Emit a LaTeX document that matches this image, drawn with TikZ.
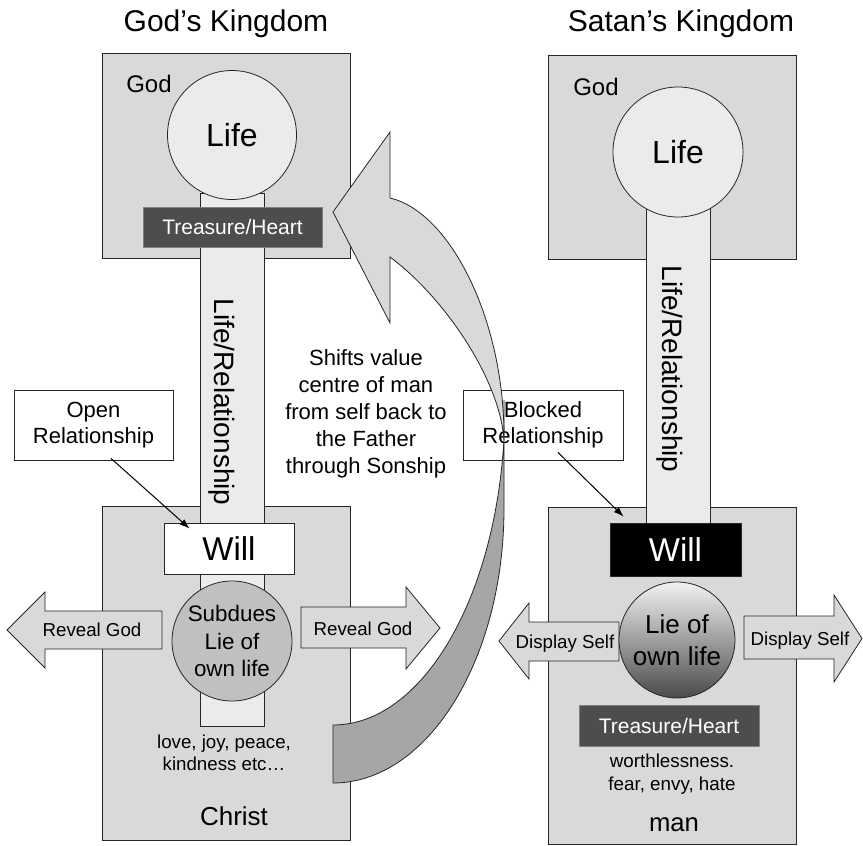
\documentclass[tikz,border=0pt]{standalone}
\usepackage{fontspec}
\setmainfont{Liberation Sans}
\usetikzlibrary{calc,arrows.meta}

\definecolor{boxgray}{HTML}{D9D9D9}
\definecolor{palegray}{HTML}{EBEBEB}
\definecolor{heartgray}{HTML}{4D4D4D}
\definecolor{midgray}{HTML}{C0C0C0}
\definecolor{bandlight}{HTML}{D9D9D9}
\definecolor{banddark}{HTML}{A6A6A6}
\definecolor{lietop}{HTML}{F2F2F2}
\definecolor{liemid}{HTML}{B4B4B4}
\definecolor{liebot}{HTML}{4A4A4A}

\tikzset{
  ln/.style={draw=black!85, line width=0.8pt},
  slab/.style={ln, fill=boxgray, rectangle, inner sep=0pt},
  stem/.style={ln, fill=palegray, rectangle, inner sep=0pt},
  orb/.style={ln, fill=palegray, circle, inner sep=0pt, font=\fontsize{32}{38}\selectfont},
  heart/.style={draw=black!50, line width=0.8pt, fill=heartgray, text=white, rectangle,
                inner sep=0pt, font=\fontsize{21}{25}\selectfont},
  willbox/.style={ln, rectangle, inner sep=0pt, font=\fontsize{33}{40}\selectfont},
  note/.style={ln, fill=white, rectangle, inner sep=0pt, align=center,
               font=\fontsize{22}{26.5}\selectfont},
  blockarrow/.style={ln, fill=boxgray, line join=miter},
  lbl/.style={inner sep=0pt, anchor=base},
  title/.style={lbl, font=\fontsize{30}{36}\selectfont},
  owner/.style={lbl, font=\fontsize{24}{28}\selectfont},
  arrowtext/.style={lbl, font=\fontsize{18.7}{22}\selectfont},
  vertical/.style={rotate=-90, inner sep=0pt, font=\fontsize{28}{33}\selectfont},
  pointer/.style={draw=black, line width=1pt, -{Latex[length=10pt,width=7pt]}},
}

\begin{document}
\begin{tikzpicture}[x=1pt,y=1pt]
\useasboundingbox (0,0) rectangle (863,-846);

% ---------- God's Kingdom ----------
\node[title] (kingL) at (226,-31) {God’s Kingdom};

\node[slab, minimum width=248pt, minimum height=205pt] (heavenL) at (226,-155.5) {};
\node[slab, minimum width=248pt, minimum height=334pt] (christ) at (226,-673) {};
\node[stem, minimum width=64pt, minimum height=533pt] (stemL) at (232,-459.5) {};
\node[orb, minimum size=129pt] (lifeL) at (232,-135) {Life};
\node[heart, minimum width=179pt, minimum height=40pt] (heartL) at (232.5,-227) {Treasure/Heart};
\node[owner] (godL) at (149,-92) {God};

\node[vertical] (relL) at (222,-402) {Life/Relationship};

\node[willbox, fill=white, minimum width=130pt, minimum height=51pt] (willL) at (229,-548.5) {Will};
\node[ln, circle, fill=midgray, minimum size=120pt, inner sep=0pt, align=center,
      font=\fontsize{22.4}{27.2}\selectfont] (subdue) at (232,-641) {Subdues\\Lie of\\own life};

% reveal arrows
\draw[blockarrow] (162,-611) -- (45,-611) -- (45,-592) -- (7,-630) -- (45,-668)
  -- (45,-649) -- (162,-649) -- cycle;
\node[arrowtext] (revealL) at (92,-636.7) {Reveal God};
\draw[blockarrow] (301,-607) -- (406,-607) -- (406,-587) -- (440,-628) -- (406,-669)
  -- (406,-648) -- (301,-648) -- cycle;
\node[arrowtext] (revealR) at (363,-635) {Reveal God};

\node[align=center, inner sep=0pt, font=\fontsize{18.7}{22.3}\selectfont] (fruit) at (224,-752.7)
  {love, joy, peace,\\kindness etc…};
\node[lbl, font=\fontsize{26}{30}\selectfont] (christname) at (234,-825.7) {Christ};

\node[note, minimum width=159pt, minimum height=70pt] (openrel) at (93.5,-425) {Open\\Relationship};
\draw[pointer] ($(openrel.south)+(17.5,2)$) -- ($(willL.north west)+(26,-6)$);

\node[align=center, inner sep=0pt, font=\fontsize{22}{27}\selectfont] (shift) at (366,-414.3)
  {Shifts value\\centre of man\\from self back to\\the Father\\through Sonship};

% ---------- Satan's Kingdom ----------
\node[title] (kingR) at (681,-31) {Satan’s Kingdom};

\node[slab, minimum width=248pt, minimum height=204pt] (heavenR) at (672,-157) {};
\node[slab, minimum width=248pt, minimum height=337pt] (manbox) at (672,-675.5) {};
\node[stem, minimum width=64pt, minimum height=323pt] (stemR) at (678,-361.5) {};
\node[orb, minimum size=130pt] (lifeR) at (678,-152) {Life};
\node[owner] (godR) at (596,-95) {God};

\node[vertical] (relR) at (670,-369) {Life/Relationship};

\node[willbox, fill=black, text=white, minimum width=131pt, minimum height=53pt] (willR) at (675.5,-549.5) {Will};

% display arrows
\draw[blockarrow] (619,-622) -- (529,-622) -- (529,-603) -- (499,-641) -- (529,-679)
  -- (529,-661) -- (619,-661) -- cycle;
\node[arrowtext] (displayL) at (565,-648) {Display Self};
\draw[blockarrow] (744,-616) -- (834,-616) -- (834,-595) -- (862,-638.5) -- (834,-682)
  -- (834,-659) -- (744,-659) -- cycle;
\node[arrowtext] (displayR) at (800,-645) {Display Self};

\node[ln, circle, minimum size=116pt, inner sep=0pt, top color=lietop, middle color=liemid,
      bottom color=liebot, align=center, font=\fontsize{26}{31.7}\selectfont] (lie) at (677,-640)
  {Lie of\\own life};

\node[heart, minimum width=180pt, minimum height=41pt] (heartR) at (669,-725.5) {Treasure/Heart};
\node[align=center, inner sep=0pt, font=\fontsize{18.8}{22.3}\selectfont] (vices) at (672,-774)
  {worthlessness.\\fear, envy, hate};
\node[lbl, font=\fontsize{25.7}{30}\selectfont] (manname) at (674,-831.7) {man};

\node[note, minimum width=160pt, minimum height=70pt] (blockrel) at (543,-425) {Blocked\\Relationship};
\draw[pointer] ($(blockrel.south)+(15,8)$) -- ($(willR.north west)+(14,6)$);

% ---------- curved return arrow ----------
% underside of the band, from the twist down to the tail
\draw[ln, fill=banddark, line join=round]
  (504,-400) -- (504,-508) arc[start angle=0, end angle=-90, x radius=171, y radius=275]
  -- (333,-725) arc[start angle=-90, end angle=-6.3, x radius=172, y radius=320] -- cycle;
% upper face of the band with its head
\draw[ln, fill=bandlight, line join=miter]
  (390,-198) .. controls (450,-212) and (505,-320) .. (504,-440)
  .. controls (500,-380) and (445,-298) .. (390,-257)
  -- (390,-323) -- (333,-212) -- (390,-132) -- cycle;

\end{tikzpicture}
\end{document}
